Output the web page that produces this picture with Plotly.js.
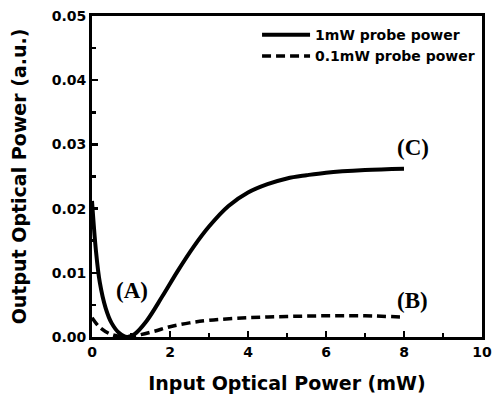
<!DOCTYPE html>
<html>
<head>
<meta charset="utf-8">
<script src="https://cdn.plot.ly/plotly-3.0.1.min.js"></script>
<style>html,body{margin:0;padding:0;background:#fff;}#chart{width:492px;height:401px;}</style>
</head>
<body>
<div id="chart"></div>
<script>
const solidX = [0, 0.1, 0.2, 0.35, 0.5, 0.7, 0.9, 1.1, 1.4, 1.8, 2.2, 2.6, 3.0, 3.5, 4.0, 4.5, 5.0, 5.5, 6.0, 7.0, 8.0];
const solidY = [0.0212, 0.0135, 0.0085, 0.0045, 0.0022, 0.0006, 0.0000, 0.0005, 0.0025, 0.0063, 0.0103, 0.0140, 0.0172, 0.0204, 0.0225, 0.0238, 0.0247, 0.0252, 0.0256, 0.0260, 0.0262];
const dashX = [0, 0.2, 0.5, 0.9, 1.2, 1.6, 2.0, 2.5, 3.0, 4.0, 5.0, 6.0, 7.0, 8.0];
const dashY = [0.0030, 0.0015, 0.0004, 0.0000, 0.0003, 0.0009, 0.0016, 0.0022, 0.0026, 0.0030, 0.0032, 0.0033, 0.0033, 0.0031];
const seriesNames = ['1mW probe power', '0.1mW probe power'];
const labelText = ['(A)', '(B)', '(C)'];
const labelX = [1.03, 8.23, 8.23];
const labelY = [0.0073, 0.0057, 0.0295];

const bold = {family: 'DejaVu Sans, Liberation Sans, sans-serif', color: '#000', weight: 'bold'};

const traces = [
  {x: solidX, y: solidY, name: seriesNames[0], mode: 'lines', line: {color: '#000', width: 4, shape: 'spline'}},
  {x: dashX, y: dashY, name: seriesNames[1], mode: 'lines', line: {color: '#000', width: 3.5, dash: '9px,5px', shape: 'spline'}}
];

const annotations = labelText.map((t, i) => ({
  x: labelX[i], y: labelY[i], xref: 'x', yref: 'y', text: t, showarrow: false,
  font: {family: 'Liberation Serif, Times New Roman, serif', size: 23, color: '#000', weight: 'bold'}
}));

const layout = {
  width: 492, height: 401,
  margin: {l: 92, r: 10, t: 16, b: 64},
  paper_bgcolor: '#fff', plot_bgcolor: '#fff',
  showlegend: true,
  legend: {x: 0.995, y: 0.99, xanchor: 'right', yanchor: 'top', bgcolor: 'rgba(0,0,0,0)',
    font: Object.assign({}, bold, {size: 14}), tracegroupgap: 0, itemwidth: 48},
  xaxis: {
    range: [0, 10], tick0: 0, dtick: 2,
    ticks: 'inside', ticklen: 6, tickwidth: 2.5, tickcolor: '#000',
    minor: {dtick: 1, ticks: 'inside', ticklen: 4, tickwidth: 2.5, tickcolor: '#000'},
    showline: true, linewidth: 3, linecolor: '#000', mirror: true,
    showgrid: false, zeroline: false,
    tickfont: Object.assign({}, bold, {size: 14}),
    title: {text: 'Input Optical Power (mW)', font: Object.assign({}, bold, {size: 19}), standoff: 18}
  },
  yaxis: {
    range: [0, 0.05], tick0: 0, dtick: 0.01, tickformat: '.2f',
    ticks: 'inside', ticklen: 6, tickwidth: 2.5, tickcolor: '#000',
    minor: {dtick: 0.005, ticks: 'inside', ticklen: 4, tickwidth: 2.5, tickcolor: '#000'},
    showline: true, linewidth: 3, linecolor: '#000', mirror: true,
    showgrid: false, zeroline: false,
    tickfont: Object.assign({}, bold, {size: 14}),
    title: {text: 'Output Optical Power (a.u.)', font: Object.assign({}, bold, {size: 19}), standoff: 21}
  },
  annotations: annotations
};

Plotly.newPlot('chart', traces, layout, {displayModeBar: false, staticPlot: true});
</script>
</body>
</html>
